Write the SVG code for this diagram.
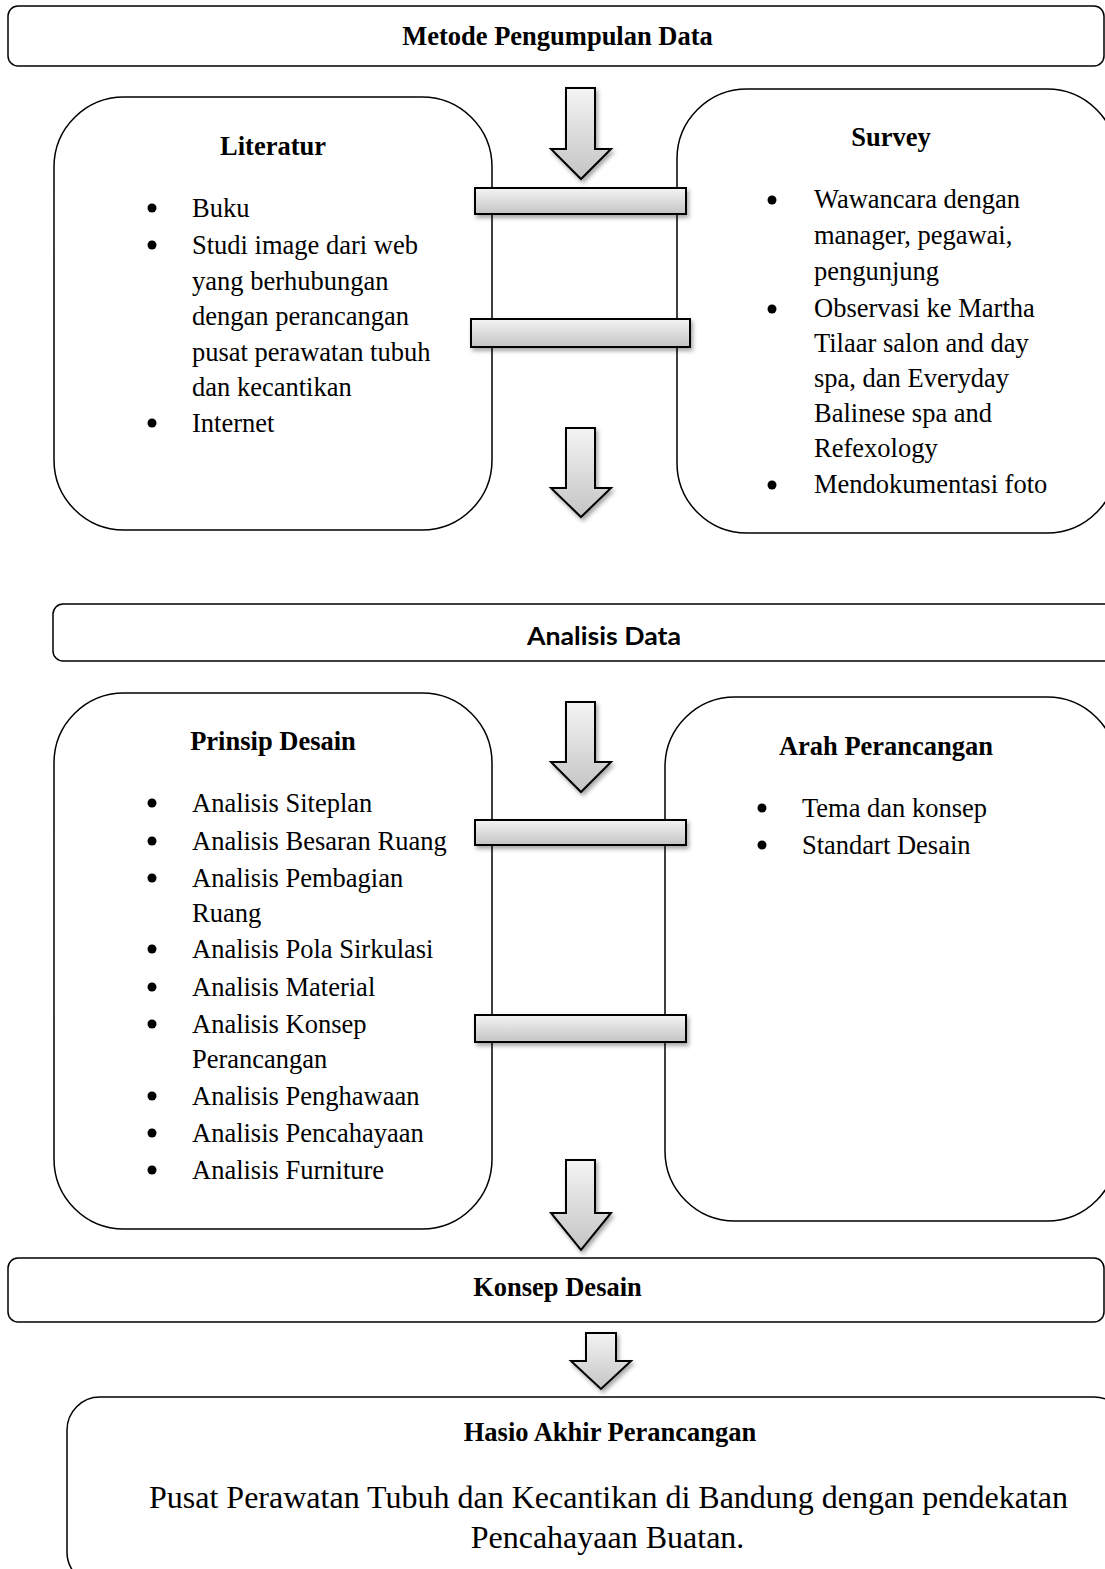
<svg xmlns="http://www.w3.org/2000/svg" width="1105" height="1569" viewBox="0 0 1105 1569">
<defs>
<linearGradient id="gv" x1="0" y1="0" x2="0" y2="1">
<stop offset="0" stop-color="#f4f4f4"/>
<stop offset="1" stop-color="#c4c4c4"/>
</linearGradient>
<filter id="sh" x="-20%" y="-40%" width="140%" height="200%">
<feDropShadow dx="2" dy="3" stdDeviation="2" flood-color="#000" flood-opacity="0.35"/>
</filter>
<style>
.box{fill:#fff;stroke:#000;stroke-width:1.5}
.blk{fill:url(#gv);stroke:#000;stroke-width:2;filter:url(#sh)}
.t{font-family:"Liberation Serif","Times New Roman",serif;font-size:26.5px;fill:#000}
.b{font-weight:bold}
.c{text-anchor:middle}
.s{font-family:Lato,"Open Sans",sans-serif;font-size:25px;font-weight:bold;fill:#000;text-anchor:middle}
.dot{fill:#000}
</style>
</defs>

<g id="metode">
<rect class="box" x="8" y="6" width="1096" height="60" rx="10"/>
<text class="t b c" x="557.5" y="45">Metode Pengumpulan Data</text>
</g>

<g id="literatur">
<rect class="box" x="54" y="97" width="438" height="433" rx="70"/>
<text class="t b c" x="273" y="155">Literatur</text>
<circle class="dot" cx="152" cy="208" r="4.5"/>
<text class="t" x="192" y="217">Buku</text>
<circle class="dot" cx="152" cy="245" r="4.5"/>
<text class="t" x="192" y="254">Studi image dari web</text>
<text class="t" x="192" y="289.5">yang berhubungan</text>
<text class="t" x="192" y="325">dengan perancangan</text>
<text class="t" x="192" y="360.5">pusat perawatan tubuh</text>
<text class="t" x="192" y="396">dan kecantikan</text>
<circle class="dot" cx="152" cy="423" r="4.5"/>
<text class="t" x="192" y="432">Internet</text>
</g>

<g id="survey">
<rect class="box" x="677" y="89" width="440" height="444" rx="70"/>
<text class="t b c" x="891" y="146">Survey</text>
<circle class="dot" cx="772" cy="200" r="4.5"/>
<text class="t" x="814" y="208">Wawancara dengan</text>
<text class="t" x="814" y="244">manager, pegawai,</text>
<text class="t" x="814" y="280">pengunjung</text>
<circle class="dot" cx="772" cy="309" r="4.5"/>
<text class="t" x="814" y="317">Observasi ke Martha</text>
<text class="t" x="814" y="352">Tilaar salon and day</text>
<text class="t" x="814" y="387">spa, dan Everyday</text>
<text class="t" x="814" y="422">Balinese spa and</text>
<text class="t" x="814" y="457">Refexology</text>
<circle class="dot" cx="772" cy="485" r="4.5"/>
<text class="t" x="814" y="493">Mendokumentasi foto</text>
</g>

<g id="analisis-data">
<rect class="box" x="53" y="604" width="1070" height="57" rx="10"/>
<text class="s" x="604" y="645" textLength="154" lengthAdjust="spacingAndGlyphs">Analisis Data</text>
</g>

<g id="prinsip-desain">
<rect class="box" x="54" y="693" width="438" height="536" rx="70"/>
<text class="t b c" x="273" y="750">Prinsip Desain</text>
<circle class="dot" cx="152" cy="803" r="4.5"/>
<text class="t" x="192" y="812">Analisis Siteplan</text>
<circle class="dot" cx="152" cy="841" r="4.5"/>
<text class="t" x="192" y="850">Analisis Besaran Ruang</text>
<circle class="dot" cx="152" cy="878" r="4.5"/>
<text class="t" x="192" y="887">Analisis Pembagian</text>
<text class="t" x="192" y="922">Ruang</text>
<circle class="dot" cx="152" cy="949" r="4.5"/>
<text class="t" x="192" y="958">Analisis Pola Sirkulasi</text>
<circle class="dot" cx="152" cy="987" r="4.5"/>
<text class="t" x="192" y="996">Analisis Material</text>
<circle class="dot" cx="152" cy="1024" r="4.5"/>
<text class="t" x="192" y="1033">Analisis Konsep</text>
<text class="t" x="192" y="1068">Perancangan</text>
<circle class="dot" cx="152" cy="1096" r="4.5"/>
<text class="t" x="192" y="1105">Analisis Penghawaan</text>
<circle class="dot" cx="152" cy="1133" r="4.5"/>
<text class="t" x="192" y="1142">Analisis Pencahayaan</text>
<circle class="dot" cx="152" cy="1170" r="4.5"/>
<text class="t" x="192" y="1179">Analisis Furniture</text>
</g>

<g id="arah-perancangan">
<rect class="box" x="665" y="697" width="452" height="524" rx="70"/>
<text class="t b c" x="886" y="755">Arah Perancangan</text>
<circle class="dot" cx="762" cy="808" r="4.5"/>
<text class="t" x="802" y="817">Tema dan konsep</text>
<circle class="dot" cx="762" cy="845" r="4.5"/>
<text class="t" x="802" y="854">Standart Desain</text>
</g>

<g id="konsep-desain">
<rect class="box" x="8" y="1258" width="1096" height="64" rx="10"/>
<text class="t b c" x="557.5" y="1296">Konsep Desain</text>
</g>

<g id="hasil-akhir">
<rect class="box" x="67" y="1397" width="1060" height="188" rx="33"/>
<text class="t b c" x="610" y="1441">Hasio Akhir Perancangan</text>
<text class="t c" x="608.5" y="1508" style="font-size:32px" textLength="919" lengthAdjust="spacingAndGlyphs">Pusat Perawatan Tubuh dan Kecantikan di Bandung dengan pendekatan</text>
<text class="t c" x="607.5" y="1548" style="font-size:32px">Pencahayaan Buatan.</text>
</g>

<g id="connectors">
<path class="blk" d="M566,88 H595 V149 H611 L581,179 L551,149 H566 Z"/>
<rect class="blk" x="475" y="188" width="211" height="26"/>
<rect class="blk" x="471" y="319" width="219" height="28"/>
<path class="blk" d="M566,428 H595 V488 H611 L581,517 L551,488 H566 Z"/>
<path class="blk" d="M566,702 H595 V762 H611 L581,792 L551,762 H566 Z"/>
<rect class="blk" x="475" y="820" width="211" height="25"/>
<rect class="blk" x="475" y="1015" width="211" height="27"/>
<path class="blk" d="M566,1160 H595 V1213 H611 L581,1250 L551,1213 H566 Z"/>
<path class="blk" d="M586,1333 H616 V1361 H631 L601,1389 L571,1361 H586 Z"/>
</g>
</svg>
